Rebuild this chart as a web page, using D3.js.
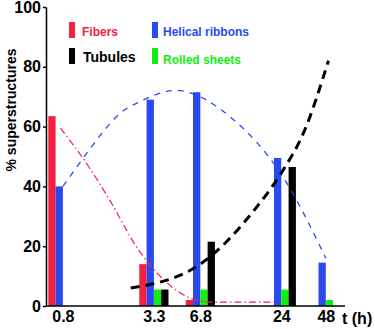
<!DOCTYPE html>
<html>
<head>
<meta charset="utf-8">
<script src="https://cdn.jsdelivr.net/npm/d3@7"></script>
<style>
  html, body { margin: 0; padding: 0; background: #fff; }
  svg { display: block; }
  text { font-family: "Liberation Sans", Arial, sans-serif; font-weight: bold; }
</style>
</head>
<body>
<svg id="chart" width="375" height="329"></svg>
<script>
// ---- data ----
const times = [0.8, 3.3, 6.8, 24, 48];
const timeLabels = ["0.8", "3.3", "6.8", "24", "48"];
const fibers = [63.5, 14, 2, 0, 0];
const helical = [40, 69, 71.5, 49.5, 14.5];
const rolled = [0, 5.5, 5.5, 5.5, 2];
const tubules = [0, 5.5, 21.5, 46.5, 0];
const yTicks = [0, 20, 40, 60, 80, 100];

// trend lines
const fibersTrendT = [0.77, 1.2, 1.7, 2.5, 4, 5.6, 8, 22];
const fibersTrendV = [59.5, 46.5, 34.5, 20, 8, 3, 1.3, 1.3];
const helicalTrendT = [0.8, 1.7, 2.7, 5, 11, 24, 48];
const helicalTrendV = [40, 61.5, 68.5, 72, 63, 44, 16];
const tubulesTrendT = [2.3, 6.8, 16, 24, 34, 50];
const tubulesTrendV = [6, 14, 32.5, 44.5, 58, 82];

const seriesNames = ["Fibers", "Helical ribbons", "Rolled sheets", "Tubules"];
const seriesColors = ["#f5203f", "#2b49f0", "#12ee12", "#000000"];
const seriesValues = [fibers, helical, rolled, tubules];

// ---- layout ----
const svg = d3.select("#chart");
const x = d3.scaleLog().domain([0.8, 48]).range([62.9, 325.8]);
const y = d3.scaleLinear().domain([0, 100]).range([306, 7]);
const slotW = 7.3;

// bars
seriesValues.forEach((vals, si) => {
  svg.append("g").selectAll("rect")
    .data(times.map((t, i) => ({ t, v: vals[i] })).filter(d => d.v > 0))
    .join("rect")
    .attr("x", d => x(d.t) - 2 * slotW + si * slotW)
    .attr("width", slotW)
    .attr("y", d => y(d.v))
    .attr("height", d => y(0) - y(d.v))
    .attr("fill", seriesColors[si]);
});

// trend lines
function trend(ts, vs, color, width, dash, curve) {
  const line = d3.line().x(d => x(d[0])).y(d => y(d[1])).curve(curve);
  svg.append("path")
    .datum(ts.map((t, i) => [t, vs[i]]))
    .attr("d", line)
    .attr("fill", "none")
    .attr("stroke", color)
    .attr("stroke-width", width)
    .attr("stroke-dasharray", dash);
}
trend(fibersTrendT, fibersTrendV, seriesColors[0], 1.2, "7,3,1.5,3", d3.curveMonotoneX);
trend(helicalTrendT, helicalTrendV, seriesColors[1], 1.3, "6,6", d3.curveNatural);
trend(tubulesTrendT, tubulesTrendV, "#000", 3, "9,6", d3.curveMonotoneX);

// axes
const yAxis = svg.append("g")
  .attr("transform", "translate(46,0)")
  .call(d3.axisLeft(y).tickValues(yTicks).tickSize(3).tickSizeOuter(0).tickPadding(2));
yAxis.select(".domain").attr("stroke", "#000").attr("stroke-width", 1.5);
yAxis.selectAll(".tick line").attr("stroke-width", 1.5);
yAxis.selectAll("text").attr("font-size", 16).attr("font-family", "Liberation Sans, Arial, sans-serif").attr("font-weight", "bold").attr("fill", "#000");

const xAxis = svg.append("g")
  .attr("transform", "translate(0,306)")
  .call(d3.axisBottom(x).tickValues(times).tickFormat((d, i) => timeLabels[i]).tickSize(0).tickPadding(5));
xAxis.select(".domain").attr("d", "M46,0H345").attr("stroke", "#000").attr("stroke-width", 1.5);
xAxis.selectAll("text").attr("font-size", 16).attr("font-family", "Liberation Sans, Arial, sans-serif").attr("font-weight", "bold").attr("fill", "#000");

svg.append("text").attr("x", 342).attr("y", 324).attr("font-size", 16).text("t (h)");

svg.append("text")
  .attr("transform", "translate(16,110) rotate(-90)")
  .attr("text-anchor", "middle")
  .attr("font-size", 14)
  .text("% superstructures");

// legend
const legendPos = [
  { rx: 69, ry: 22, tx: 82, ty: 36, fs: 12 },
  { rx: 152, ry: 22, tx: 163, ty: 36, fs: 12 },
  { rx: 152, ry: 48, tx: 163, ty: 64, fs: 12 },
  { rx: 69, ry: 48, tx: 83, ty: 62, fs: 14 }
];
seriesNames.forEach((name, i) => {
  const p = legendPos[i];
  svg.append("rect").attr("x", p.rx).attr("y", p.ry).attr("width", 6).attr("height", 16).attr("fill", seriesColors[i]);
  svg.append("text").attr("x", p.tx).attr("y", p.ty).attr("font-size", p.fs).attr("fill", seriesColors[i]).text(name);
});
</script>
</body>
</html>
